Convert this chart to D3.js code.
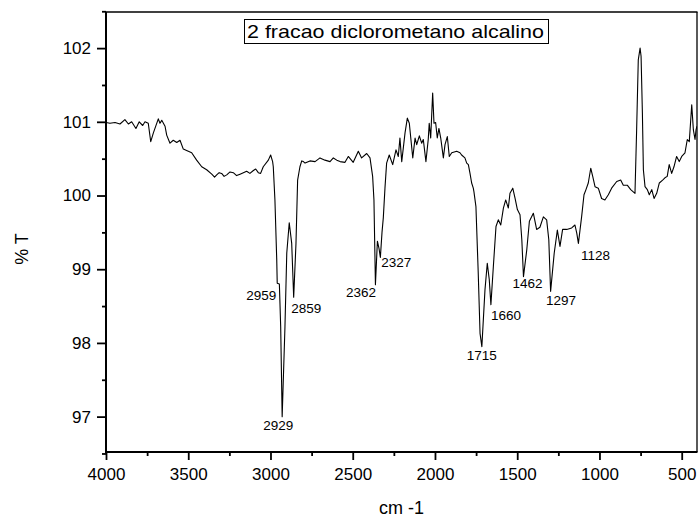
<!DOCTYPE html>
<html>
<head>
<meta charset="utf-8">
<script src="https://cdn.jsdelivr.net/npm/d3@7"></script>
<style>
  html, body { margin: 0; padding: 0; background: #fff; }
  svg { display: block; font-family: Arial, "Liberation Sans", sans-serif; }
</style>
</head>
<body>
<svg id="chart" width="698" height="517"></svg>
<script>
// ---- data ----
const wavenumbers = [
  4000,3976,3945,3915,3885,3864,3844,3818,3798,3777,3763,3743,3728,3712,3682,3672,3661,3641,3631,3611,
  3591,3570,3550,3530,3510,3479,3449,3418,3388,3357,3340,3327,3312,3297,3282,3266,3246,3226,3206,3185,
  3165,3145,3125,3104,3090,3074,3060,3044,3013,2999,2987,2983,2973,2962,2959,2946,2938,2929,2912,2901,
  2886,2871,2859,2845,2835,2821,2810,2800,2790,2760,2729,2699,2669,2638,2618,2597,2577,2547,2527,2497,
  2466,2446,2415,2395,2379,2371,2362,2350,2340,2332,2322,2314,2304,2294,2278,2257,2237,2223,2213,2202,
  2182,2168,2156,2135,2121,2111,2095,2081,2071,2055,2041,2035,2026,2014,2006,1996,1986,1976,1965,1949,
  1939,1925,1913,1898,1868,1848,1838,1818,1807,1797,1787,1777,1767,1763,1751,1737,1726,1715,1696,1682,
  1670,1660,1645,1629,1615,1600,1584,1570,1554,1544,1527,1513,1499,1483,1472,1462,1442,1426,1402,1382,
  1362,1341,1321,1308,1297,1275,1256,1240,1224,1199,1169,1149,1138,1128,1108,1094,1082,1068,1053,1041,
  1027,1007,987,967,946,926,895,871,855,831,810,784,774,764,753,747,739,733,723,709,
  697,682,668,652,636,616,602,588,576,561,547,531,515,500,480,466,454,439,429,419,
  413,407
];
const transmittance = [
  100.99,100.98,100.99,100.97,101.03,100.97,101.00,100.91,101.00,100.95,101.00,100.98,100.73,100.85,101.04,100.98,101.02,100.94,100.82,100.71,
  100.75,100.72,100.75,100.63,100.61,100.58,100.48,100.39,100.35,100.29,100.25,100.28,100.31,100.30,100.26,100.28,100.32,100.31,100.27,100.29,
  100.31,100.33,100.30,100.34,100.36,100.31,100.30,100.39,100.48,100.55,100.46,100.39,99.94,99.13,98.81,98.80,98.22,97.00,98.22,99.22,
  99.63,99.35,98.62,99.35,100.21,100.39,100.47,100.46,100.44,100.47,100.46,100.51,100.48,100.46,100.51,100.48,100.46,100.45,100.53,100.45,
  100.60,100.51,100.57,100.51,100.26,99.94,98.79,99.38,99.28,99.16,99.50,99.70,100.10,100.44,100.55,100.42,100.62,100.53,100.78,100.46,
  100.85,101.05,100.98,100.51,100.78,100.69,100.81,100.71,100.76,100.46,100.76,100.98,100.78,101.39,100.98,100.99,100.78,100.91,100.78,100.51,
  100.69,100.80,100.53,100.58,100.60,100.58,100.55,100.51,100.44,100.42,100.30,100.17,100.10,100.05,99.85,98.95,98.13,97.95,98.72,99.08,
  98.86,98.52,99.04,99.58,99.67,99.60,99.83,99.94,99.83,100.03,100.10,99.96,99.81,99.74,99.40,98.90,99.26,99.65,99.76,99.54,
  99.57,99.71,99.67,99.40,98.70,99.22,99.53,99.31,99.54,99.54,99.56,99.60,99.49,99.35,99.72,100.01,100.08,100.17,100.37,100.26,
  100.12,100.10,99.96,99.94,100.01,100.10,100.19,100.21,100.14,100.14,100.08,100.03,100.89,101.84,102.00,101.89,101.12,100.35,100.12,100.08,
  100.01,100.08,99.96,100.03,100.17,100.21,100.24,100.26,100.42,100.30,100.39,100.53,100.46,100.53,100.58,100.76,100.73,101.23,100.89,100.76,
  100.89,100.94
];
const xTickValues = [4000, 3500, 3000, 2500, 2000, 1500, 1000, 500];
const xMinorTicks = [3750, 3250, 2750, 2250, 1750, 1250, 750];
const yTickValues = [97, 98, 99, 100, 101, 102];
const yMinorTicks = [96.5, 97.5, 98.5, 99.5, 100.5, 101.5, 102.5];
const peakLabels = ["2959", "2929", "2859", "2362", "2327", "1715", "1660", "1462", "1297", "1128"];
const peakLabelX = [2959, 2929, 2859, 2362, 2327, 1715, 1660, 1462, 1297, 1128];
const peakLabelY = [98.58, 96.82, 98.40, 98.62, 99.03, 97.77, 98.31, 98.74, 98.51, 99.13];
const peakAnchor = ["end", "middle", "start", "end", "start", "middle", "start", "middle", "middle", "middle"];
const peakDx = [-1, -4, -2.5, 0.5, 0, 0, 0, 4, 10.5, 17];
const titleText = "2 fracao diclorometano alcalino";
const xLabel = "cm -1";
const yLabel = "% T";

// ---- chart ----
const svg = d3.select("#chart");
const M = { l: 106, r: 697, t: 12, b: 452 };

const x = d3.scaleLinear().domain([4000, 407]).range([M.l, M.r]);
const y = d3.scaleLinear().domain([96.52, 102.49]).range([M.b, M.t]);

const data = wavenumbers.map((w, i) => ({ w, t: transmittance[i] }));

svg.append("defs").append("clipPath").attr("id", "clip")
  .append("rect").attr("x", M.l).attr("y", M.t).attr("width", M.r - M.l).attr("height", M.b - M.t);

svg.append("path")
  .datum(data)
  .attr("clip-path", "url(#clip)")
  .attr("fill", "none")
  .attr("stroke", "#000")
  .attr("stroke-width", 1.1)
  .attr("stroke-linejoin", "round")
  .attr("d", d3.line().x(d => x(d.w)).y(d => y(d.t)));

// frame top and right
svg.append("line").attr("x1", M.l).attr("x2", M.r + 0.5).attr("y1", M.t).attr("y2", M.t)
  .attr("stroke", "#000").attr("stroke-width", 1.3);
svg.append("line").attr("x1", M.r).attr("x2", M.r).attr("y1", M.t).attr("y2", M.b)
  .attr("stroke", "#000").attr("stroke-width", 1.3);

// x axis
const gx = svg.append("g").attr("transform", `translate(0,${M.b})`)
  .call(d3.axisBottom(x).tickValues(xTickValues).tickSize(8).tickPadding(8).tickFormat(d3.format("d")));
const gxm = svg.append("g").attr("transform", `translate(0,${M.b})`)
  .call(d3.axisBottom(x).tickValues(xMinorTicks).tickSize(4).tickFormat(""));
// y axis
const gy = svg.append("g").attr("transform", `translate(${M.l},0)`)
  .call(d3.axisLeft(y).tickValues(yTickValues).tickSize(9).tickPadding(6).tickFormat(d3.format("d")));
const gym = svg.append("g").attr("transform", `translate(${M.l},0)`)
  .call(d3.axisLeft(y).tickValues(yMinorTicks).tickSize(4).tickFormat(""));

[gx, gxm, gy, gym].forEach(g => {
  g.select(".domain").attr("stroke", "#000").attr("stroke-width", 2);
  g.selectAll(".tick line").attr("stroke", "#000").attr("stroke-width", 1.8);
  g.selectAll(".tick text").attr("fill", "#000").style("font-size", "17px")
    .style("font-family", "Arial, 'Liberation Sans', sans-serif");
});
gx.select(".domain").attr("d", `M${M.l - 1},0H${M.r + 0.5}`);
gxm.select(".domain").remove();
gym.select(".domain").remove();
gy.select(".domain").attr("d", `M0,${M.b + 1}V${M.t}`);

// axis titles
svg.append("text").attr("x", (M.l + M.r) / 2).attr("y", 514)
  .attr("text-anchor", "middle").style("font-size", "18px").text(xLabel);
svg.append("text").attr("transform", "translate(28,249) rotate(-90)")
  .attr("text-anchor", "middle").style("font-size", "18px").text(yLabel);

// title box
svg.append("text").attr("x", 247).attr("y", 38).style("font-size", "19px")
  .attr("textLength", 297).attr("lengthAdjust", "spacingAndGlyphs").text(titleText);
svg.append("rect").attr("x", 244.5).attr("y", 19.5).attr("width", 304).attr("height", 24)
  .attr("fill", "none").attr("stroke", "#000").attr("stroke-width", 1);

// peak labels
svg.append("g").selectAll("text").data(peakLabels).join("text")
  .attr("x", (d, i) => x(peakLabelX[i]) + peakDx[i])
  .attr("y", (d, i) => y(peakLabelY[i]))
  .attr("text-anchor", (d, i) => peakAnchor[i])
  .style("font-size", "13.5px")
  .text(d => d);
</script>
</body>
</html>
